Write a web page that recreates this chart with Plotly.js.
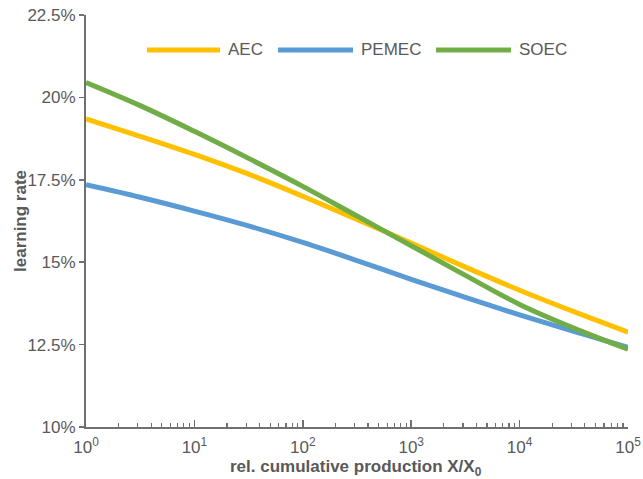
<!DOCTYPE html>
<html>
<head>
<meta charset="utf-8">
<script src="https://cdn.plot.ly/plotly-3.0.1.min.js"></script>
<style>html,body{margin:0;padding:0;background:#fff;}#chart{width:643px;height:479px;}</style>
</head>
<body>
<div id="chart"></div>
<script>
// Data
const xValues = [1, 3.162, 10, 31.62, 100, 316.2, 1000, 3162, 10000, 31620, 100000];
const aec   = [19.35, 18.82, 18.27, 17.67, 17.0, 16.3, 15.58, 14.85, 14.15, 13.5, 12.88];
const pemec = [17.35, 16.97, 16.55, 16.1, 15.6, 15.05, 14.48, 13.93, 13.4, 12.9, 12.42];
const soec  = [20.45, 19.75, 18.97, 18.15, 17.3, 16.4, 15.5, 14.6, 13.72, 13.0, 12.36];
const seriesNames = ["AEC", "PEMEC", "SOEC"];
const colors = ["#FFC000", "#5B9BD5", "#70AD47"];
const yTickVals = [10, 12.5, 15, 17.5, 20, 22.5];
const yTickText = ["10%", "12.5%", "15%", "17.5%", "20%", "22.5%"];
const xTickVals = [1, 10, 100, 1000, 10000, 100000];
const xTickText = ["10<sup>0</sup>", "10<sup>1</sup>", "10<sup>2</sup>", "10<sup>3</sup>", "10<sup>4</sup>", "10<sup>5</sup>"];
const xTitle = "rel. cumulative production X/X<sub>0</sub>";
const yTitle = "learning rate";

const font = "Liberation Sans, Arial, sans-serif";
const textColor = "#595959";
const allY = [aec, pemec, soec];
const traces = allY.map((ys, i) => ({
  x: xValues, y: ys, type: "scatter", mode: "lines", name: seriesNames[i],
  line: {color: colors[i], width: 5, shape: "spline", smoothing: 1}, showlegend: false
}));

// minor ticks on the log x-axis
const minorVals = [];
for (let d = 0; d < 5; d++) for (let m = 2; m <= 9; m++) minorVals.push(m * Math.pow(10, d));

// manual legend (long line samples), positions in pixels converted to paper
const L = 86, R = 628, T = 15, B = 427;
const px = v => (v - L) / (R - L);
const py = v => (B - v) / (B - T);
const legendX = [[147, 220], [278, 353], [436, 511]];
const legendY = 50;
const shapes = legendX.map((p, i) => ({
  type: "line", xref: "paper", yref: "paper", x0: px(p[0]), x1: px(p[1]), y0: py(legendY), y1: py(legendY),
  line: {color: colors[i], width: 5}
}));
const annotations = legendX.map((p, i) => ({
  xref: "paper", yref: "paper", x: px(p[1] + 6), y: py(legendY), xanchor: "left", yanchor: "middle",
  text: seriesNames[i], showarrow: false, font: {family: font, size: 17, color: textColor}
}));
annotations.push({
  xref: "paper", yref: "paper", x: px(356), y: py(468), xanchor: "center", yanchor: "middle",
  text: "<b>" + xTitle + "</b>", showarrow: false, font: {family: font, size: 17, color: textColor}
});
annotations.push({
  xref: "paper", yref: "paper", x: px(20), y: py(221), xanchor: "center", yanchor: "middle", textangle: -90,
  text: "<b>" + yTitle + "</b>", showarrow: false, font: {family: font, size: 17, color: textColor}
});

const layout = {
  width: 643, height: 479,
  margin: {l: L, r: 643 - R, t: T, b: 479 - B},
  paper_bgcolor: "#fff", plot_bgcolor: "#fff",
  showlegend: false,
  xaxis: {
    type: "log", range: [0, 5], tickvals: xTickVals, ticktext: xTickText,
    ticks: "inside", ticklen: 7, tickwidth: 1.5, tickcolor: "#707070", ticklabelstandoff: 4,
    showline: true, linecolor: "#707070", linewidth: 2, showgrid: false, zeroline: false,
    tickfont: {family: font, size: 17, color: textColor},
    minor: {tickvals: minorVals, ticks: "inside", ticklen: 4, tickwidth: 1.2, tickcolor: "#707070", showgrid: false}
  },
  yaxis: {
    range: [10, 22.5], tickvals: yTickVals, ticktext: yTickText,
    ticks: "outside", ticklen: 5, tickwidth: 1.5, tickcolor: "#707070",
    showline: true, linecolor: "#707070", linewidth: 2, showgrid: false, zeroline: false,
    tickfont: {family: font, size: 17, color: textColor}
  },
  shapes: shapes,
  annotations: annotations
};
Plotly.newPlot("chart", traces, layout, {staticPlot: true, displayModeBar: false});
</script>
</body>
</html>
